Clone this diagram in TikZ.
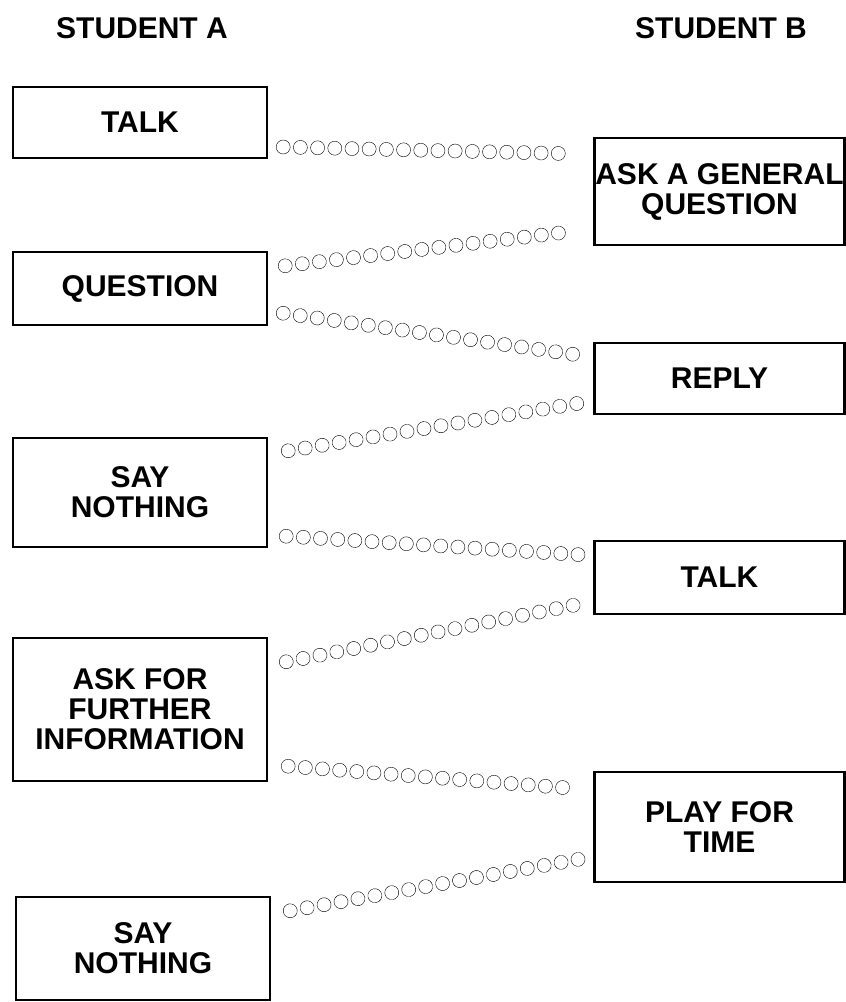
\documentclass[tikz,border=0pt]{standalone}
\usepackage{fontspec}
\setmainfont{Liberation Sans}
\usetikzlibrary{decorations.markings}
\begin{document}
\begin{tikzpicture}[x=1pt,y=-1pt,
  box/.style={draw, line width=2.4pt, inner sep=0pt, align=center,
    font=\bfseries\fontsize{30}{30}\selectfont},
  lbox/.style={box, minimum width=254pt},
  rbox/.style={box, minimum width=250pt},
  head/.style={font=\bfseries\fontsize{30}{30}\selectfont, inner sep=0pt},
  chain/.style={decorate, line width=1pt,
    decoration={markings, mark=between positions 0 and 1 step 17.2pt with {\draw (0,0) circle (7pt);}}}
]
\useasboundingbox (0,0) rectangle (846,1002);

\node[head] (ha) at (142,28) {STUDENT A};
\node[head] (hb) at (721,28) {STUDENT B};

\node[lbox, minimum height=71pt]  (lt1) at (140,122.5) {TALK};
\node[lbox, minimum height=73pt]  (lt2) at (140,288.5) {QUESTION};
\node[lbox, minimum height=109pt] (lt3) at (140,492.5) {SAY\\NOTHING};
\node[lbox, minimum height=143pt] (lt4) at (140,709.5) {ASK FOR\\FURTHER\\INFORMATION};
\node[lbox, minimum height=103pt] (lt5) at (143,948.5) {SAY\\NOTHING};

\node[rbox, minimum height=107pt] (rt1) at (719.5,191.5) {ASK A GENERAL\\QUESTION};
\node[rbox, minimum height=71pt]  (rt2) at (719.5,378.5) {REPLY};
\node[rbox, minimum height=73pt]  (rt3) at (719.5,577.5) {TALK};
\node[rbox, minimum height=110pt] (rt4) at (719.5,827) {PLAY FOR\\TIME};

\draw[chain] ([shift={(15,24.5)}]lt1.east) -- ([shift={(-19,17)}]rt1.north west);
\draw[chain] ([shift={(17,15)}]lt2.north east) -- ([shift={(-19.5,-15)}]rt1.south west);
\draw[chain] ([shift={(15,-13)}]lt2.south east) -- ([shift={(-16.5,13)}]rt2.north west);
\draw[chain] ([shift={(20,14)}]lt3.north east) -- ([shift={(-14.5,-12)}]rt2.south west);
\draw[chain] ([shift={(18,-12)}]lt3.south east) -- ([shift={(-12.5,15)}]rt3.north west);
\draw[chain] ([shift={(18,25)}]lt4.north east) -- ([shift={(-14.5,-11)}]rt3.south west);
\draw[chain] ([shift={(20,-16)}]lt4.south east) -- ([shift={(-14.5,18)}]rt4.north west);
\draw[chain] ([shift={(19,15)}]lt5.north east) -- ([shift={(-14.5,-24)}]rt4.south west);
\end{tikzpicture}
\end{document}
